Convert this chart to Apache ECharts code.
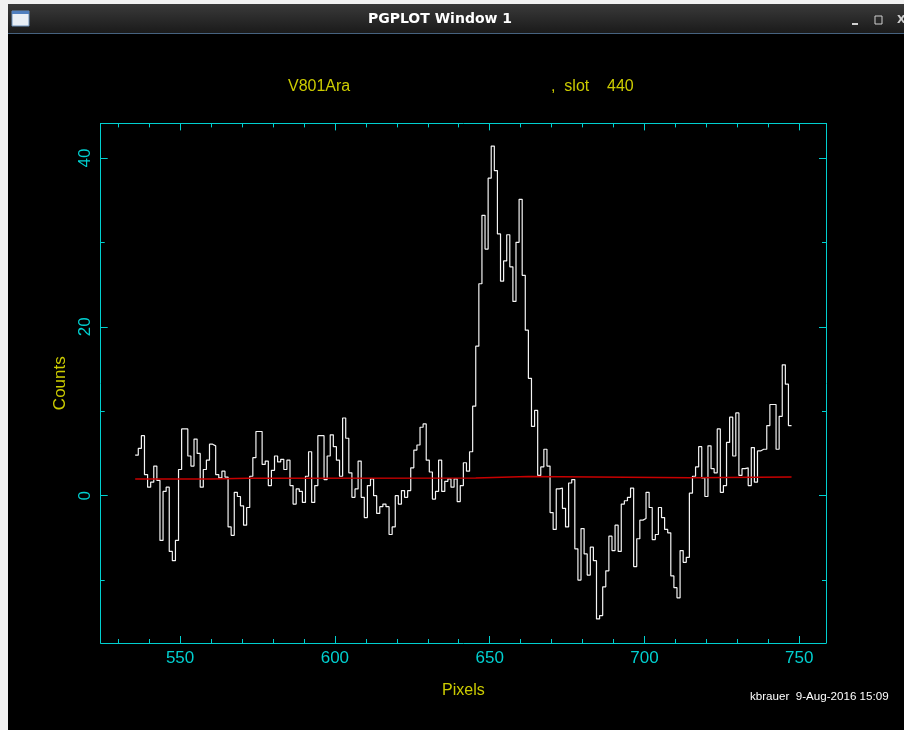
<!DOCTYPE html>
<html>
<head>
<meta charset="utf-8">
<title>PGPLOT Window 1</title>
<script src="https://cdn.jsdelivr.net/npm/echarts@6/dist/echarts.min.js"></script>
<style>
  html, body { margin: 0; padding: 0; background: #ffffff; }
  #main { width: 904px; height: 730px; }
</style>
</head>
<body>
<div id="main"></div>
<script>
// one value per pixel bin; bins are 1 pixel wide
const firstEdge = 535.5;
const counts = [
  4.8, 5.6, 7.1, 2.5, 1.0, 1.6, 3.5, 1.8, -5.3, 0.5,
  1.0, -6.6, -7.7, -5.3, 3.1, 7.9, 7.9, 4.7, 3.5, 6.7,
  5.0, 1.0, 3.1, 4.2, 6.1, 5.9, 2.5, 2.1, 2.9, 2.2,
  -3.7, -4.7, 0.4, -0.1, -1.2, -3.5, -1.4, 2.3, 4.5, 7.6,
  7.6, 3.7, 4.1, 1.2, 3.0, 4.7, 4.0, 4.3, 3.1, 4.2,
  1.2, -1.0, 0.8, 0.5, -0.8, 2.3, 5.2, -0.8, 1.2, 7.1,
  7.1, 1.9, 4.7, 7.2, 5.8, 4.2, 2.3, 9.2, 6.8, 2.7,
  -0.2, 0.8, 4.1, -0.2, -2.6, 1.2, 2.0, 0.0, -2.1, -1.3,
  -1.0, -1.3, -4.6, -3.7, 0.0, -1.0, 0.6, -0.2, 0.6, 3.3,
  5.4, 6.0, 8.1, 8.5, 4.2, 2.8, -0.4, 0.5, 4.2, 0.5,
  1.7, 2.0, 1.0, 2.0, -0.7, 1.2, 3.9, 2.9, 5.2, 10.6,
  17.7, 25.1, 33.2, 29.2, 37.6, 41.4, 38.5, 31.0, 25.4, 27.8,
  30.9, 27.1, 23.0, 30.0, 35.1, 26.1, 19.6, 13.9, 8.2, 10.1,
  2.4, 3.4, 5.5, 3.5, -2.0, -4.0, 0.8, 0.9, -1.5, -3.7,
  1.5, 1.9, -6.3, -10.0, -3.9, -6.9, -9.4, -6.1, -7.7, -14.6,
  -14.2, -10.8, -8.9, -4.8, -6.5, -3.5, -6.6, -1.0, -0.6, -0.2,
  0.9, -8.4, -5.1, -2.9, -2.7, 0.4, -1.4, -5.2, -4.6, -1.4,
  -2.6, -4.0, -4.4, -9.5, -10.9, -12.1, -6.5, -7.9, -7.3, 0.3,
  2.3, 3.4, 5.8, 2.1, -0.1, 5.9, 3.2, 2.7, 7.9, 0.4,
  1.2, 6.3, 9.3, 4.7, 9.8, 2.4, 3.2, 3.3, 1.2, 5.7,
  1.6, 5.3, 5.5, 5.5, 8.3, 10.8, 10.8, 5.5, 9.4, 15.5,
  13.2, 8.3
];

// the red continuum line: edge where each level starts, and its level
const fitEdges = [535.5, 560, 572, 645.5, 662.5, 715, 747.5];
const fitValues = [1.98, 2.05, 2.1, 2.26, 2.12, 2.2, 2.2];

const xMajorTicks = [550, 600, 650, 700, 750];
const xMinorTicks = [530, 540, 560, 570, 580, 590, 610, 620, 630, 640,
  660, 670, 680, 690, 710, 720, 730, 740];
const yMajorTicks = [0, 20, 40];
const yMinorTicks = [-10, 10, 30];

const X_MIN = 524.36, X_MAX = 758.63;
const Y_MIN = -17.45, Y_MAX = 44.09;
const CYAN = '#00d0d0';
const YELLOW = '#cccc00';
const FONT = 'Liberation Sans';

const countData = counts.map((v, i) => [firstEdge + i, v]);
countData.push([firstEdge + counts.length, counts[counts.length - 1]]);
const fitData = fitEdges.map((e, i) => [e, fitValues[i]]);

function xAxisOf(position, ticks, len, line, labels) {
  return {
    type: 'value', position: position, min: X_MIN, max: X_MAX,
    axisLine: { show: line, onZero: false, lineStyle: { color: CYAN, width: 1 } },
    axisTick: { show: true, inside: true, length: len, customValues: ticks,
      lineStyle: { color: CYAN, width: 1 } },
    axisLabel: { show: labels, customValues: ticks, color: CYAN, fontFamily: FONT,
      fontSize: 17, margin: 7 },
    splitLine: { show: false }
  };
}
function yAxisOf(position, ticks, len, line, labels) {
  return {
    type: 'value', position: position, min: Y_MIN, max: Y_MAX,
    axisLine: { show: line, onZero: false, lineStyle: { color: CYAN, width: 1 } },
    axisTick: { show: true, inside: true, length: len, customValues: ticks,
      lineStyle: { color: CYAN, width: 1 } },
    axisLabel: { show: labels, customValues: ticks, color: CYAN, fontFamily: FONT,
      fontSize: 17, margin: 7, rotate: 90 },
    splitLine: { show: false }
  };
}

const xBottom = xAxisOf('bottom', xMajorTicks, 7, true, true);
xBottom.name = 'Pixels';
xBottom.nameLocation = 'middle';
xBottom.nameGap = 40;
xBottom.nameTextStyle = { color: YELLOW, fontFamily: FONT, fontSize: 16 };

const yLeft = yAxisOf('left', yMajorTicks, 7, true, true);
yLeft.name = 'Counts';
yLeft.nameLocation = 'middle';
yLeft.nameRotate = 90;
yLeft.nameGap = 32;
yLeft.nameTextStyle = { color: YELLOW, fontFamily: FONT, fontSize: 17 };

const chart = echarts.init(document.getElementById('main'));
const option = {
  backgroundColor: '#000000',
  animation: false,
  grid: { left: 100.7, top: 123.4, width: 725.3, height: 519.6 },
  xAxis: [
    xBottom,
    xAxisOf('bottom', xMinorTicks, 4, false, false),
    xAxisOf('top', xMajorTicks, 7, true, false),
    xAxisOf('top', xMinorTicks, 4, false, false)
  ],
  yAxis: [
    yLeft,
    yAxisOf('left', yMinorTicks, 4, false, false),
    yAxisOf('right', yMajorTicks, 7, true, false),
    yAxisOf('right', yMinorTicks, 4, false, false)
  ],
  series: [
    {
      type: 'line', step: 'end', data: countData, symbol: 'none',
      lineStyle: { color: '#f4f4f4', width: 1.2 }, z: 3
    },
    {
      type: 'line', step: 'end', data: fitData, symbol: 'none',
      lineStyle: { color: '#c80000', width: 1.5 }, z: 4
    }
  ],
  graphic: [
    // window frame and title bar
    { type: 'rect', shape: { x: 0, y: 0, width: 904, height: 4 }, style: { fill: '#f2f2f2' } },
    { type: 'rect', shape: { x: 0, y: 0, width: 8, height: 730 }, style: { fill: '#f2f2f2' } },
    {
      type: 'rect', shape: { x: 8, y: 4, width: 896, height: 29 },
      style: { fill: new echarts.graphic.LinearGradient(0, 0, 0, 1, [
        { offset: 0, color: '#3a3a3a' }, { offset: 1, color: '#1a1a1a' }]) }
    },
    { type: 'rect', shape: { x: 8, y: 33, width: 896, height: 1 }, style: { fill: '#46627f' } },
    { type: 'rect', shape: { x: 12, y: 11, width: 17, height: 15 }, style: { fill: '#e8eef5', stroke: '#6b8fb8', lineWidth: 1 } },
    { type: 'rect', shape: { x: 12, y: 11, width: 17, height: 3 }, style: { fill: '#4f7fbf' } },
    {
      type: 'text', x: 440, y: 19,
      style: { text: 'PGPLOT Window 1', fill: '#ffffff', font: 'bold 14px "DejaVu Sans"',
        align: 'center', verticalAlign: 'middle', textAlign: 'center', textVerticalAlign: 'middle' }
    },
    { type: 'rect', shape: { x: 852, y: 23, width: 6, height: 2 }, style: { fill: '#d0d0d0' } },
    { type: 'rect', shape: { x: 875, y: 16, width: 7, height: 8 }, style: { fill: 'none', stroke: '#d0d0d0', lineWidth: 1 } },
    {
      type: 'text', x: 897, y: 20,
      style: { text: 'X', fill: '#d0d0d0', font: 'bold 11px "DejaVu Sans"',
        align: 'left', verticalAlign: 'middle', textAlign: 'left', textVerticalAlign: 'middle' }
    },
    // plot title
    {
      type: 'text', x: 288, y: 87,
      style: { text: 'V801Ara', fill: YELLOW, font: '16px "Liberation Sans"',
        align: 'left', verticalAlign: 'middle', textAlign: 'left', textVerticalAlign: 'middle' }
    },
    {
      type: 'text', x: 551, y: 87,
      style: { text: ',  slot    440', fill: YELLOW, font: '16px "Liberation Sans"',
        align: 'left', verticalAlign: 'middle', textAlign: 'left', textVerticalAlign: 'middle' }
    },
    // user / date stamp
    {
      type: 'text', x: 750, y: 697,
      style: { text: 'kbrauer  9-Aug-2016 15:09', fill: '#ffffff', font: '11.6px "Liberation Sans"',
        align: 'left', verticalAlign: 'middle', textAlign: 'left', textVerticalAlign: 'middle' }
    }
  ]
};
chart.setOption(option);
</script>
</body>
</html>
